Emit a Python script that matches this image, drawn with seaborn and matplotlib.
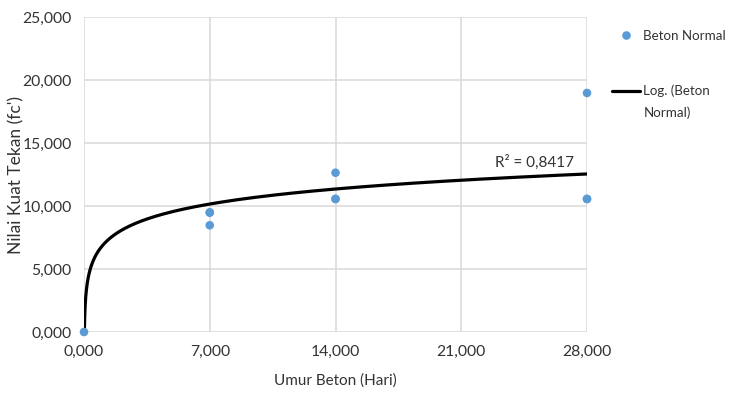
import numpy as np
import pandas as pd
import matplotlib
matplotlib.use("Agg")
import matplotlib.pyplot as plt
from matplotlib.ticker import FuncFormatter, FixedLocator
from matplotlib.lines import Line2D
import seaborn as sns

# ---- data ----
umur_hari = [0, 7, 7, 7, 14, 14, 14, 28, 28, 28]
kuat_tekan = [0.0, 8.47, 9.47, 9.50, 10.56, 10.56, 12.64, 10.56, 10.56, 18.97]
# logarithmic trendline y = a*ln(x) + b
trend_a = 1.72
trend_b = 6.81
r_squared_label = "R² = 0,8417"
x_ticks = [0, 7, 14, 21, 28]
y_ticks = [0, 5, 10, 15, 20, 25]
legend_scatter = "Beton Normal"
legend_trend = ["Log. (Beton", "Normal)"]

sns.set_theme(style="whitegrid")
plt.rcParams['font.family'] = ['Lato', 'DejaVu Sans']

W, H = 732, 393
fig = plt.figure(figsize=(W/100, H/100), dpi=100)
ax = fig.add_axes([84/W, 1 - 332/H, (587-84)/W, (332-17)/H])

TXT = "#333333"
BLUE = "#5B9BD5"

df = pd.DataFrame({"x": umur_hari, "y": kuat_tekan})
sns.scatterplot(data=df, x="x", y="y", ax=ax, color=BLUE, s=38,
                edgecolor="none", zorder=3, clip_on=False, legend=False)

xs = np.exp(np.linspace(np.log(0.0193), np.log(28), 400))
trend = pd.DataFrame({"x": xs, "y": trend_a*np.log(xs) + trend_b})
sns.lineplot(data=trend, x="x", y="y", ax=ax, color="black", lw=2.3,
             zorder=2, legend=False)

ax.set_xlim(0, 28)
ax.set_ylim(0, 25)
ax.xaxis.set_major_locator(FixedLocator(x_ticks))
ax.yaxis.set_major_locator(FixedLocator(y_ticks))
fmt = FuncFormatter(lambda v, p: f"{v:.3f}".replace(".", ","))
ax.xaxis.set_major_formatter(fmt)
ax.yaxis.set_major_formatter(fmt)
ax.grid(True, color="#d9d9d9", lw=1.1)
for s in ax.spines.values():
    s.set_visible(False)
ax.tick_params(axis="both", labelsize=11.3, colors=TXT, length=0)
ax.tick_params(axis="y", pad=9)
ax.tick_params(axis="x", pad=9)

ax.set_xlabel("Umur Beton (Hari)", fontsize=11, color=TXT)
ax.set_ylabel("Nilai Kuat Tekan (fc')", fontsize=12.5, color=TXT)
ax.xaxis.set_label_coords(0.5, (332-373)/315)
ax.yaxis.set_label_coords((24-84)/503, 0.5)

ax.text(25.1, 13.45, r_squared_label, fontsize=11, color=TXT,
        ha="center", va="center")

# legend (outside, right)
LFS = 9.6
h1 = Line2D([], [], ls="none", marker="o", markersize=6.2, color=BLUE,
            markeredgewidth=0)
h2 = Line2D([], [], color="black", lw=2.3)
leg1 = fig.legend([h1], [legend_scatter], loc="center left",
                  bbox_to_anchor=(612/W, 1 - 36/H), frameon=False,
                  fontsize=LFS, handlelength=2.1, handletextpad=0.25,
                  borderaxespad=0, borderpad=0)
leg2 = fig.legend([h2], [legend_trend[0]], loc="center left",
                  bbox_to_anchor=(612/W, 1 - 91/H), frameon=False,
                  fontsize=LFS, handlelength=2.1, handletextpad=0.25,
                  borderaxespad=0, borderpad=0)
for lg in (leg1, leg2):
    for t in lg.get_texts():
        t.set_color(TXT)
fig.text(643.5/W, 1 - 113/H, legend_trend[1], fontsize=LFS, color=TXT,
         ha="left", va="center")

fig.savefig("out.png", dpi=100)
